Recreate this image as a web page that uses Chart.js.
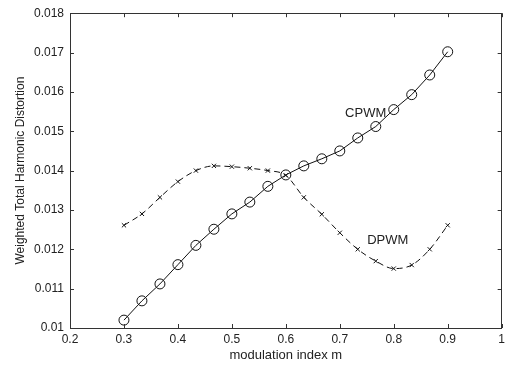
<!DOCTYPE html>
<html>
<head>
<meta charset="utf-8">
<script src="https://cdn.jsdelivr.net/npm/chart.js@4.4.0/dist/chart.umd.min.js"></script>
<style>
  html, body { margin: 0; padding: 0; background: #fff; }
  #wrap { width: 509px; height: 365px; }
</style>
</head>
<body>
<div id="wrap"><canvas id="thdChart"></canvas></div>
<script>
// modulation index samples
var mValues = [0.3, 0.3333, 0.3667, 0.4, 0.4333, 0.4667, 0.5, 0.5333, 0.5667, 0.6,
               0.6333, 0.6667, 0.7, 0.7333, 0.7667, 0.8, 0.8333, 0.8667, 0.9];
var cpwm = [0.0102, 0.01069, 0.01112, 0.01161, 0.0121, 0.01251, 0.0129, 0.0132, 0.0136, 0.01389,
            0.01412, 0.0143, 0.0145, 0.01483, 0.01512, 0.01555, 0.01593, 0.01643, 0.01702];
var dpwm = [0.01261, 0.0129, 0.01332, 0.01372, 0.014, 0.01412, 0.0141, 0.01406, 0.014, 0.01388,
            0.01332, 0.01289, 0.01242, 0.012, 0.0117, 0.01151, 0.0116, 0.012, 0.01261];
var xTicks = [0.2, 0.3, 0.4, 0.5, 0.6, 0.7, 0.8, 0.9, 1];
var yTicks = [0.01, 0.011, 0.012, 0.013, 0.014, 0.015, 0.016, 0.017, 0.018];
var curveLabels = [
    { text: 'CPWM', x: 0.748, y: 0.01545 },
    { text: 'DPWM', x: 0.789, y: 0.01223 }
];

function toPoints(ys) {
    return mValues.map(function(m, i) { return { x: m, y: ys[i] }; });
}

var fontFamily = '"Liberation Sans", Arial, sans-serif';

// box around the plot, inward ticks on every side, curve names
var frameAndTicks = {
    id: 'frameAndTicks',
    afterDatasetsDraw: function(chart) {
        var ctx = chart.ctx;
        var a = chart.chartArea;
        var xs = chart.scales.x, ys = chart.scales.y;
        ctx.save();
        ctx.strokeStyle = '#333';
        ctx.lineWidth = 1;
        ctx.strokeRect(Math.round(a.left) + 0.5, Math.round(a.top) + 0.5,
                       Math.round(a.right - a.left) - 1, Math.round(a.bottom - a.top));
        ctx.beginPath();
        xTicks.forEach(function(v) {
            var px = Math.round(xs.getPixelForValue(v)) + 0.5;
            ctx.moveTo(px, a.bottom); ctx.lineTo(px, a.bottom - 4);
            ctx.moveTo(px, a.top); ctx.lineTo(px, a.top + 4);
        });
        yTicks.forEach(function(v) {
            var py = Math.round(ys.getPixelForValue(v)) + 0.5;
            ctx.moveTo(a.left, py); ctx.lineTo(a.left + 4, py);
            ctx.moveTo(a.right, py); ctx.lineTo(a.right - 4, py);
        });
        ctx.stroke();
        ctx.fillStyle = '#222';
        ctx.font = '13px ' + fontFamily;
        ctx.textAlign = 'center';
        ctx.textBaseline = 'middle';
        curveLabels.forEach(function(l) {
            ctx.fillText(l.text, xs.getPixelForValue(l.x), ys.getPixelForValue(l.y));
        });
        ctx.restore();
    }
};

var ctx = document.getElementById('thdChart').getContext('2d');
var thdChart = new Chart(ctx, {
    type: 'scatter',
    data: {
        datasets: [{
            label: 'CPWM',
            data: toPoints(cpwm),
            showLine: true,
            borderColor: '#111',
            borderWidth: 1,
            pointStyle: 'circle',
            pointRadius: 5,
            pointBorderWidth: 1,
            pointBorderColor: '#111',
            pointBackgroundColor: 'rgba(0,0,0,0)',
            tension: 0
        }, {
            label: 'DPWM',
            data: toPoints(dpwm),
            showLine: true,
            borderColor: '#111',
            borderWidth: 1,
            borderDash: [6, 4],
            pointStyle: 'crossRot',
            pointRadius: 3,
            pointBorderWidth: 1,
            pointBorderColor: '#111',
            tension: 0.4,
            cubicInterpolationMode: 'monotone'
        }]
    },
    options: {
        responsive: true,
        maintainAspectRatio: false,
        animation: false,
        layout: { padding: { top: 13, right: 2, left: 0, bottom: 0 } },
        plugins: {
            legend: { display: false },
            tooltip: { enabled: false }
        },
        scales: {
            x: {
                type: 'linear',
                min: 0.2,
                max: 1,
                afterBuildTicks: function(scale) {
                    scale.ticks = xTicks.map(function(v) { return { value: v }; });
                },
                afterFit: function(scale) { scale.height = 37; },
                grid: { display: false, drawTicks: false },
                border: { display: false },
                ticks: {
                    color: '#222',
                    padding: 4,
                    maxRotation: 0,
                    font: { family: fontFamily, size: 12 },
                    callback: function(v) { return String(parseFloat(v.toFixed(3))); }
                },
                title: {
                    display: true,
                    text: 'modulation index m',
                    color: '#222',
                    padding: { top: 0, bottom: 2 },
                    font: { family: fontFamily, size: 13 }
                }
            },
            y: {
                type: 'linear',
                min: 0.01,
                max: 0.018,
                afterBuildTicks: function(scale) {
                    scale.ticks = yTicks.map(function(v) { return { value: v }; });
                },
                afterFit: function(scale) { scale.width = 70; },
                grid: { display: false, drawTicks: false },
                border: { display: false },
                ticks: {
                    color: '#222',
                    padding: 6,
                    font: { family: fontFamily, size: 12 },
                    callback: function(v) { return String(parseFloat(v.toFixed(4))); }
                },
                title: {
                    display: true,
                    text: 'Weighted Total Harmonic Distortion',
                    color: '#222',
                    padding: { top: 13, bottom: 0 },
                    font: { family: fontFamily, size: 12 }
                }
            }
        }
    },
    plugins: [frameAndTicks]
});
</script>
</body>
</html>
